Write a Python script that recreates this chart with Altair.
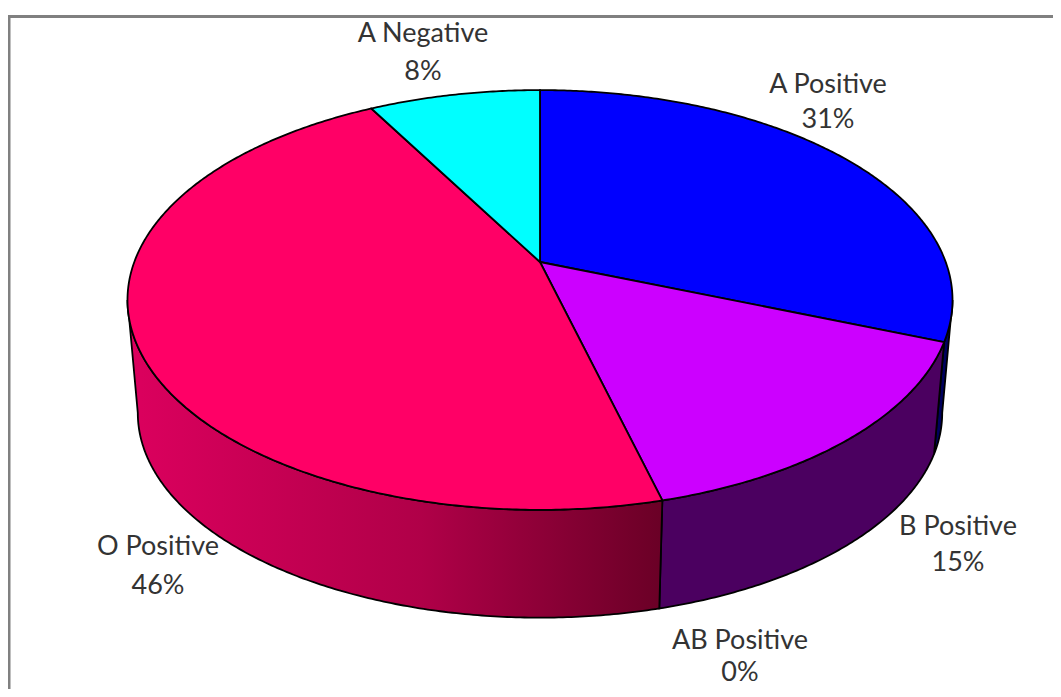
import numpy as np
import altair as alt

names = ["A Positive", "B Positive", "AB Positive", "O Positive", "A Negative"]
values = [31, 15, 0, 46, 8]
top_colors = ["#0000FF", "#CC00FF", "#9900CC", "#FF0066", "#00FFFF"]
label_x = [828, 958, 740, 158, 423]
label_y1 = [85, 527, 641, 547, 34]
label_y2 = [120, 563, 673, 586, 72]

PAGE = 8
CX, CY = 540 - PAGE, 262 - PAGE
A, B, K = 405.7, 203.0, 0.181
S, DROP = 0.975, 376 - 262


def rim(theta_deg, scale=1.0, dy=0.0):
    t = np.radians(theta_deg)
    u, v = np.sin(t), -np.cos(t)
    d = 1 - K * v
    return np.column_stack([CX + scale * A * u / d, CY + dy + scale * B * v / d])


def feature(coords, name):
    ring = [[float(x), float(y)] for x, y in coords]
    ring.append(ring[0])
    return {"type": "Feature", "properties": {"name": name},
            "geometry": {"type": "Polygon", "coordinates": [ring]}}


def angles(a, b):
    return np.linspace(a, b, max(int(abs(b - a)) * 2, 2))


edges = np.concatenate([[0], np.cumsum(values)]) * 3.6
caps = []
for i, n in enumerate(names):
    if values[i] > 0:
        arc = rim(angles(edges[i], edges[i + 1]))
        caps.append(feature(np.vstack([[[CX, CY]], arc]), n))


def side(a, b, name):
    th = angles(a, b)
    return feature(np.vstack([rim(th), rim(th[::-1], S, DROP)]), name)


tan = np.degrees(np.arccos(-K))
side_blue = side(tan, edges[1], "A Positive")
side_purple = side(edges[1], edges[2], "B Positive")
side_red = side(edges[3], 360 - tan, "O Positive")

proj = dict(type="identity", scale=1, translate=[0, 0])


def side_layer(f, fill):
    return (alt.Chart(alt.Data(values=[f]))
            .mark_geoshape(fill=fill, stroke="black", strokeWidth=1.8)
            .project(**proj))


red_fill = alt.Gradient(gradient="linear", x1=0, x2=1, y1=0, y2=0, stops=[
    alt.GradientStop(color="#DC005E", offset=0),
    alt.GradientStop(color="#B00048", offset=0.55),
    alt.GradientStop(color="#6A0026", offset=1),
])

cap_layer = (alt.Chart(alt.Data(values=caps))
             .mark_geoshape(stroke="black", strokeWidth=1.8)
             .encode(color=alt.Color("properties.name:N", legend=None,
                                     scale=alt.Scale(domain=names, range=top_colors)))
             .project(**proj))

rows = [{"name": n, "pct": f"{v}%", "x": x - PAGE, "y1": a - PAGE, "y2": b - PAGE}
        for n, v, x, a, b in zip(names, values, label_x, label_y1, label_y2)]
labels = alt.Data(values=rows)
txt = dict(font="Lato", fontSize=27, color="#333333", align="center", baseline="middle")
name_layer = alt.Chart(labels).mark_text(**txt).encode(
    x=alt.X("x:Q", scale=None), y=alt.Y("y1:Q", scale=None), text="name:N")
pct_layer = alt.Chart(labels).mark_text(**txt).encode(
    x=alt.X("x:Q", scale=None), y=alt.Y("y2:Q", scale=None), text="pct:N")

frame_top = alt.Chart(alt.Data(values=[{"a": 0}])).mark_rule(color="#808080", strokeWidth=3).encode(
    x=alt.value(0), x2=alt.value(1045), y=alt.value(8.5))
frame_left = alt.Chart(alt.Data(values=[{"a": 0}])).mark_rule(color="#808080", strokeWidth=3).encode(
    x=alt.value(1), y=alt.value(7), y2=alt.value(681))

chart = alt.layer(
    frame_top, frame_left,
    side_layer(side_blue, "#00005E"),
    side_layer(side_purple, "#4B0060"),
    side_layer(side_red, red_fill),
    cap_layer, name_layer, pct_layer,
).properties(width=1045, height=681, padding=0, autosize="none",
             background="white").configure_view(stroke=None)

chart.save("out.html", embed_options={"renderer": "svg", "actions": False})
